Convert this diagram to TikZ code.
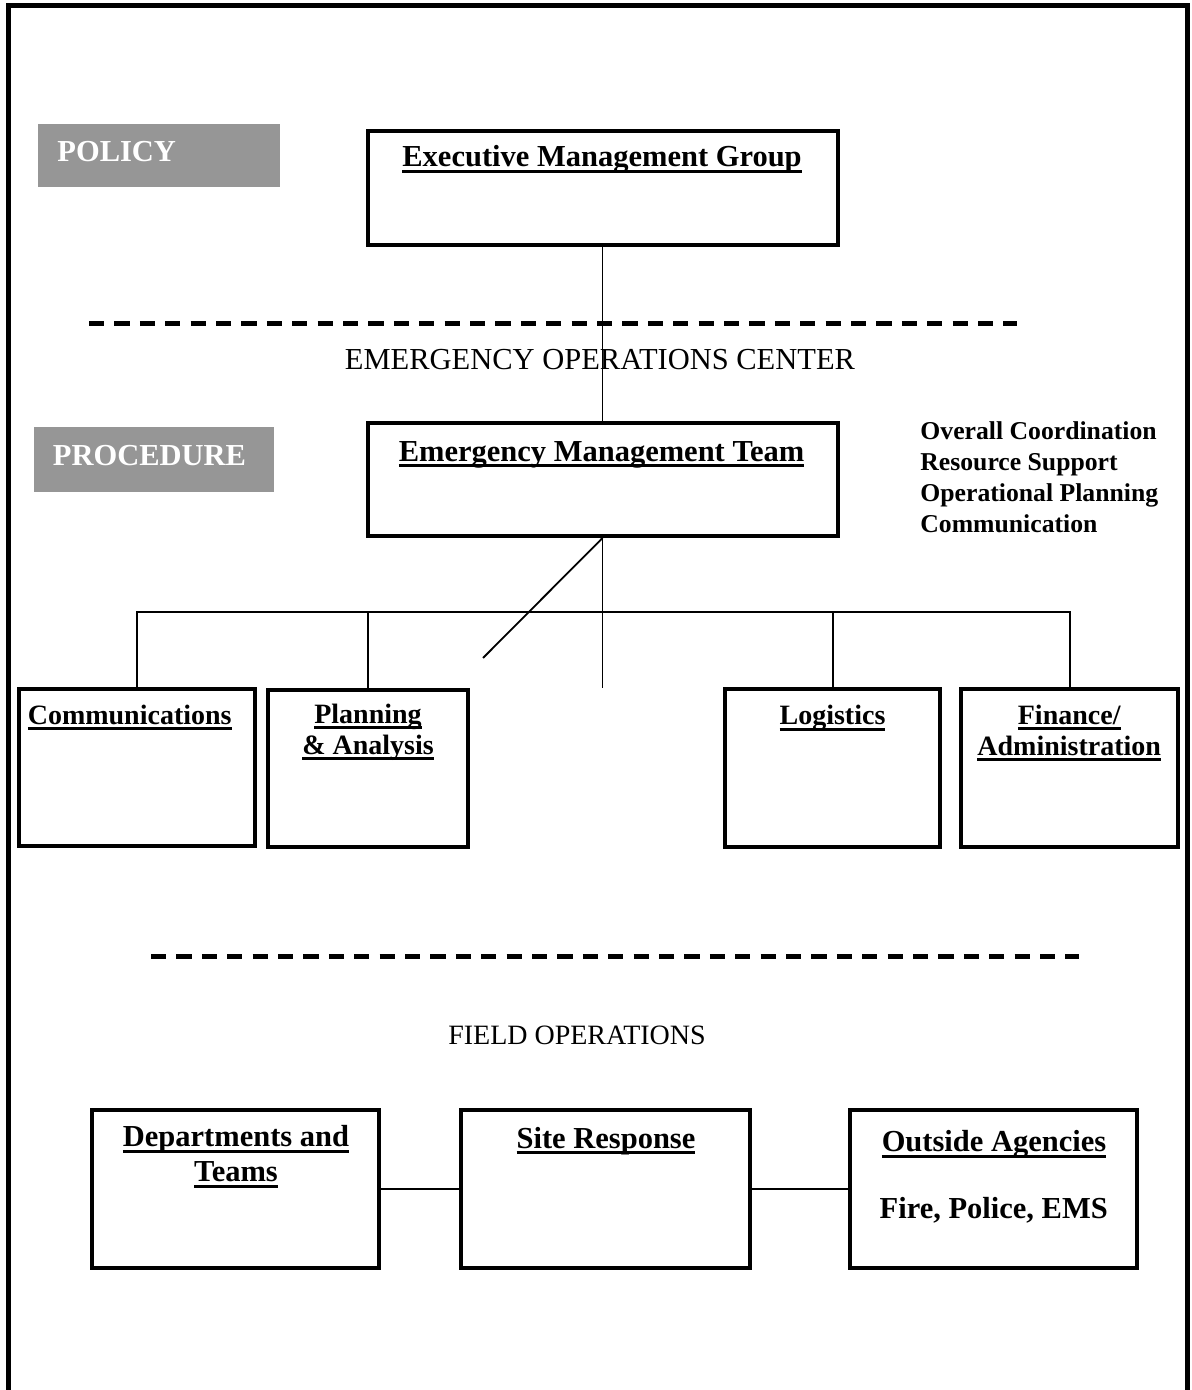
\documentclass[tikz,border=0pt]{standalone}
\usepackage{fontspec}
\setmainfont{Liberation Serif}
\definecolor{tagGray}{RGB}{150,150,150}
\newcommand{\ulin}[1]{\leavevmode\setbox0\hbox{#1}\rlap{\rule[-3pt]{\wd0}{1.5pt}}\box0}
\begin{document}
\begin{tikzpicture}[x=0.5pt,y=-0.5pt,
  box/.style={draw,line width=2pt,inner sep=0pt},
  tag/.style={fill=tagGray,inner sep=0pt},
  tagtext/.style={text=white,anchor=base west,inner sep=0pt,font=\bfseries\fontsize{15.25}{17.5}\selectfont},
  title/.style={anchor=base,align=center,inner sep=0pt,font=\bfseries\fontsize{15.25}{17.5}\selectfont},
  subtitle/.style={anchor=base,align=center,inner sep=0pt,font=\bfseries\fontsize{14}{15.5}\selectfont},
  zone/.style={anchor=base,inner sep=0pt,font=\fontsize{15.25}{17.5}\selectfont},
  link/.style={line width=0.9pt},
  divider/.style={line width=2.5pt,dash pattern=on 7.6pt off 5.1pt}]
\useasboundingbox (0,0) rectangle (1191,1390);
% outer frame
\draw[line width=2.5pt] (8.5,1390) -- (8.5,6) -- (1187,6) -- (1187,1390);
% policy level
\node[tag,minimum width=121pt,minimum height=31.5pt] (policy) at (159,155.5) {};
\node[tagtext] at (57,162) {POLICY};
\node[box,minimum width=235pt,minimum height=57pt] (emg) at (602.5,188) {};
\node[title] at (602,167) {\ulin{Executive Management Group}};
\draw[divider] (89,323.5) -- (1017,323.5);
\node[zone] (eoc) at (600,369) {EMERGENCY OPERATIONS CENTER};
% procedure level
\node[tag,minimum width=120pt,minimum height=32.5pt] (proc) at (154,459.5) {};
\node[tagtext] at (52.5,465) {PROCEDURE};
\node[box,minimum width=235pt,minimum height=56.5pt] (emt) at (602.5,479.5) {};
\node[title] at (601.5,461) {\ulin{Emergency Management Team}};
\node[anchor=base west,align=left,inner sep=0pt,font=\bfseries\fontsize{12.85}{15.5}\selectfont] (roles) at (920,532)
  {Overall Coordination\\Resource Support\\Operational Planning\\Communication};
\draw[link] (emg.south) -- (emt.north);
% sections
\node[box,minimum width=118pt,minimum height=78.6pt] (comms) at (136.7,767.3) {};
\node[box,minimum width=100pt,minimum height=78.6pt] (plan) at (367.9,768.3) {};
\node[box,minimum width=107.5pt,minimum height=79pt] (logi) at (832.8,767.8) {};
\node[box,minimum width=108.3pt,minimum height=79pt] (fin) at (1069.7,767.8) {};
\node[subtitle] at (129.7,724.3) {\ulin{Communications}};
\node[subtitle] at (368,754.3) {\ulin{Planning}\\\ulin{\& Analysis}};
\node[subtitle] at (832.5,724.5) {\ulin{Logistics}};
\node[subtitle] at (1069.2,755) {\ulin{Finance/}\\\ulin{Administration}};
\coordinate (busl) at (136.7,612);
\coordinate (busr) at (1069.7,612);
\coordinate (drop) at (602.5,688);
\coordinate (slash) at (483,658);
\draw[link] (comms.north) -- (busl) -- (busr) -- (fin.north);
\draw[link] (plan.north) -- (plan.north |- busl);
\draw[link] (logi.north) -- (logi.north |- busl);
\draw[link] (emt.south) -- (drop);
\draw[link] (emt.south) -- (slash);
\draw[divider] (151,956.5) -- (1079,956.5);
% field level
\node[zone,font=\fontsize{14}{15.5}\selectfont] (field) at (577,1044) {FIELD OPERATIONS};
\node[box,minimum width=143.9pt,minimum height=78.8pt] (dept) at (235.5,1189.2) {};
\node[box,minimum width=144.3pt,minimum height=78.8pt] (site) at (605.6,1189.2) {};
\node[box,minimum width=143.7pt,minimum height=78.8pt] (outside) at (993.3,1189.2) {};
\node[title] at (236,1181.7) {\ulin{Departments and}\\\ulin{Teams}};
\node[title] at (606,1148) {\ulin{Site Response}};
\node[title] at (994,1151.7) {\ulin{Outside Agencies}};
\node[title] at (993.7,1218.3) {Fire, Police, EMS};
\draw[link] (dept.east) -- (site.west);
\draw[link] (site.east) -- (outside.west);
\end{tikzpicture}
\end{document}
